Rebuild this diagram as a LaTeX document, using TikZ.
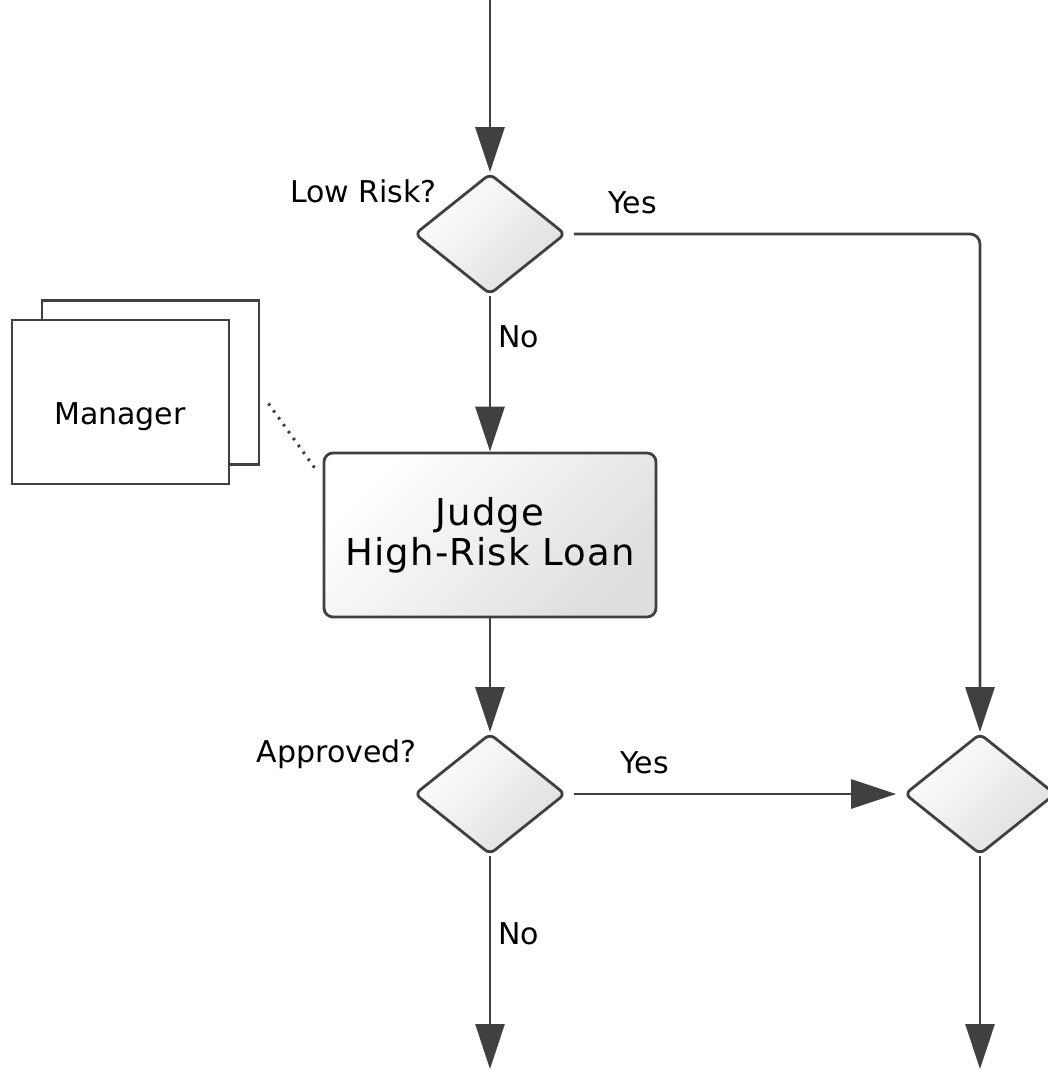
\documentclass[tikz,border=0pt]{standalone}
\usepackage{fontspec}
\setmainfont{DejaVu Sans}
\usetikzlibrary{shapes.geometric,arrows.meta,calc}
\definecolor{ln}{HTML}{404040}
\definecolor{sh}{HTML}{DEDEDE}
\begin{document}
\begin{tikzpicture}[x=1pt,y=-1pt,
  dec/.style={diamond, draw=ln, line width=2.8pt, rounded corners=6pt,
    minimum width=151pt, minimum height=121pt, inner sep=0pt,
    top color=white, bottom color=sh, shading angle=45},
  task/.style={rectangle, draw=ln, line width=2.8pt, rounded corners=9pt,
    minimum width=332pt, minimum height=164pt, inner sep=0pt,
    top color=white, bottom color=sh, shading angle=45,
    align=center, font=\fontsize{37}{40}\selectfont\addfontfeature{LetterSpace=3}},
  res/.style={rectangle, draw=ln, line width=2.8pt, fill=white,
    minimum width=217pt, minimum height=164pt, inner sep=0pt},
  flow/.style={draw=ln, line width=2.8pt, -{Triangle[length=45pt,width=29pt]}},
  lbl/.style={font=\fontsize{30}{36}\selectfont, inner sep=0pt},
  assoc/.style={draw=ln, line width=3pt, dash pattern=on 2.5pt off 6pt}
]
\useasboundingbox (0,0) rectangle (1048,1069);
\clip (0,0) rectangle (1048,1069);

\coordinate (start) at (490,0);
\coordinate (corner) at (980,234);
\coordinate (end1) at (490,1069);
\coordinate (end2) at (980,1069);

\node[dec] (d1) at (490,234) {};
\node[task] (judge) at (490,535) {Judge\\High-Risk Loan};
\node[dec] (d2) at (490,794) {};
\node[dec] (d3) at (980,794) {};

\node[res] (mgrback) at (150.5,382.5) {};
\node[res] (mgr) at (120.5,402) {};
\node[lbl, anchor=base] (mgrtext) at (120,424) {Manager};

\draw[assoc] ($(mgrback.east)+(8,21)$) -- ($(judge.north west)+(-6,19)$);

\draw[flow] (start) -- (d1.north);
\draw[flow, rounded corners=10pt, shorten <=7pt] (d1.east) -- (corner) -- (d3.north);
\draw[flow] (d1.south) -- (judge.north);
\draw[flow] (judge.south) -- (d2.north);
\draw[flow, shorten <=7pt, shorten >=7pt] (d2.east) -- (d3.west);
\draw[flow] (d2.south) -- (end1);
\draw[flow] (d3.south) -- (end2);

\node[lbl, anchor=base east] (l1) at (437,202) {Low Risk?};
\node[lbl, anchor=base west] (y1) at (608,213) {Yes};
\node[lbl, anchor=base west] (n1) at (498,347) {No};
\node[lbl, anchor=base east] (l2) at (417,762) {Approved?};
\node[lbl, anchor=base west] (y2) at (620,773) {Yes};
\node[lbl, anchor=base west] (n2) at (498,944) {No};
\end{tikzpicture}
\end{document}
